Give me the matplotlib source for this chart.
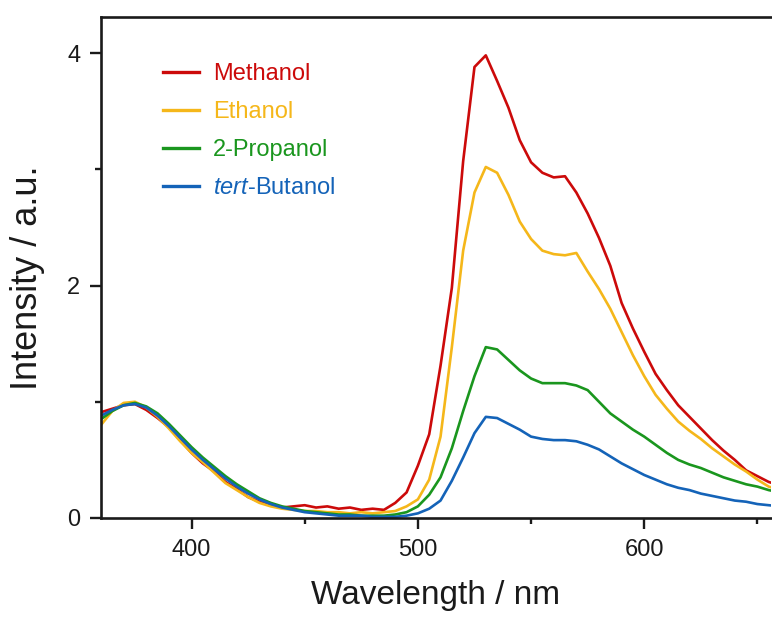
import numpy as np
import matplotlib.pyplot as plt
from matplotlib.ticker import MultipleLocator

plt.rcParams['font.family'] = ['Liberation Sans', 'DejaVu Sans']
plt.rcParams['mathtext.fontset'] = 'custom'
plt.rcParams['mathtext.it'] = 'Liberation Sans:italic'
plt.rcParams['mathtext.rm'] = 'Liberation Sans'

# wavelength grid (nm), every 5 nm
wl = np.arange(360, 661, 5)

methanol = [0.91, 0.94, 0.97, 0.98, 0.93, 0.86, 0.78, 0.67, 0.56, 0.47,
            0.40, 0.31, 0.25, 0.18, 0.14, 0.11, 0.09, 0.10, 0.11, 0.09,
            0.10, 0.08, 0.09, 0.07, 0.08, 0.07, 0.13, 0.22, 0.45, 0.72,
            1.31, 1.98, 3.07, 3.88, 3.98, 3.76, 3.53, 3.25, 3.06, 2.97,
            2.93, 2.94, 2.80, 2.62, 2.41, 2.17, 1.85, 1.63, 1.43, 1.24,
            1.10, 0.97, 0.87, 0.77, 0.67, 0.58, 0.50, 0.41, 0.36, 0.31,
            0.28]
ethanol = [0.80, 0.92, 0.99, 1.00, 0.95, 0.87, 0.77, 0.66, 0.56, 0.48,
           0.39, 0.30, 0.24, 0.18, 0.13, 0.10, 0.08, 0.07, 0.06, 0.06,
           0.05, 0.05, 0.04, 0.05, 0.04, 0.05, 0.06, 0.10, 0.16, 0.33,
           0.70, 1.47, 2.30, 2.80, 3.02, 2.97, 2.78, 2.55, 2.40, 2.30,
           2.27, 2.26, 2.28, 2.12, 1.97, 1.80, 1.60, 1.40, 1.22, 1.06,
           0.94, 0.83, 0.75, 0.68, 0.60, 0.53, 0.46, 0.40, 0.33, 0.27,
           0.24]
propanol = [0.85, 0.92, 0.97, 0.99, 0.96, 0.90, 0.81, 0.71, 0.61, 0.52,
            0.44, 0.36, 0.29, 0.23, 0.17, 0.13, 0.10, 0.08, 0.06, 0.05,
            0.04, 0.03, 0.03, 0.02, 0.02, 0.02, 0.03, 0.05, 0.10, 0.20,
            0.35, 0.60, 0.92, 1.22, 1.47, 1.45, 1.36, 1.27, 1.20, 1.16,
            1.16, 1.16, 1.14, 1.10, 1.00, 0.90, 0.83, 0.76, 0.70, 0.63,
            0.56, 0.50, 0.46, 0.43, 0.39, 0.35, 0.32, 0.29, 0.27, 0.24,
            0.22]
butanol = [0.88, 0.93, 0.97, 0.98, 0.95, 0.88, 0.79, 0.69, 0.59, 0.50,
           0.42, 0.34, 0.27, 0.21, 0.16, 0.12, 0.09, 0.07, 0.05, 0.04,
           0.03, 0.02, 0.02, 0.02, 0.01, 0.01, 0.01, 0.02, 0.04, 0.08,
           0.15, 0.32, 0.52, 0.73, 0.87, 0.86, 0.81, 0.76, 0.70, 0.68,
           0.67, 0.67, 0.66, 0.63, 0.59, 0.53, 0.47, 0.42, 0.37, 0.33,
           0.29, 0.26, 0.24, 0.21, 0.19, 0.17, 0.15, 0.14, 0.12, 0.11,
           0.10]

labels = ['Methanol', 'Ethanol', '2-Propanol', r'$\it{tert}$-Butanol']
colors = ['#cc0a0a', '#f5b71a', '#1a961e', '#1463b8']

fig = plt.figure(figsize=(7.72, 6.17), dpi=100)
ax = fig.add_axes([101/772, 99/617, 670/772, 501/617])

for y, lab, c in zip([methanol, ethanol, propanol, butanol], labels, colors):
    ax.plot(wl, y, color=c, lw=1.9, label=lab)

ax.set_xlim(360, 656)
ax.set_ylim(0, 4.31)
ax.xaxis.set_major_locator(MultipleLocator(100))
ax.xaxis.set_minor_locator(MultipleLocator(50))
ax.yaxis.set_major_locator(MultipleLocator(2))
ax.yaxis.set_minor_locator(MultipleLocator(1))
ax.tick_params(which='major', direction='out', length=8, width=1.7,
               labelsize=17, pad=7, colors='#1a1a1a')
ax.tick_params(which='minor', direction='out', length=4.5, width=1.7,
               colors='#1a1a1a')
ax.spines['right'].set_visible(False)
for s in ['left', 'bottom', 'top']:
    ax.spines[s].set_linewidth(1.9)
    ax.spines[s].set_color('#1a1a1a')

ax.set_xlabel('Wavelength / nm', fontsize=24, labelpad=14, color='#1a1a1a')
ax.set_ylabel('Intensity / a.u.', fontsize=26, color='#1a1a1a')
ax.yaxis.set_label_coords(-0.083, 0.48)

leg = ax.legend(loc='upper left', bbox_to_anchor=(0.061, 0.95),
                frameon=False, fontsize=17, handlelength=1.5,
                handletextpad=0.6, labelspacing=0.68, borderpad=0.4)
for t, c in zip(leg.get_texts(), colors):
    t.set_color(c)
for h in leg.get_lines():
    h.set_linewidth(2.4)

plt.savefig('out.png', dpi=100)
